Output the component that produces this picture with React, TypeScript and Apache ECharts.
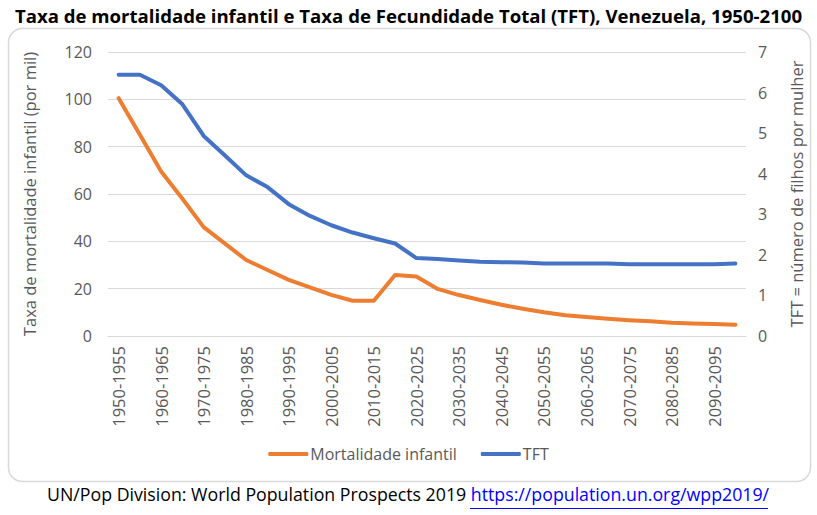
import React, { useEffect, useRef } from "react";
import * as echarts from "echarts";

const categories = [
  "1950-1955","1955-1960","1960-1965","1965-1970","1970-1975","1975-1980",
  "1980-1985","1985-1990","1990-1995","1995-2000","2000-2005","2005-2010",
  "2010-2015","2015-2020","2020-2025","2025-2030","2030-2035","2035-2040",
  "2040-2045","2045-2050","2050-2055","2055-2060","2060-2065","2065-2070",
  "2070-2075","2075-2080","2080-2085","2085-2090","2090-2095","2095-2100",
];

const mortalidade = [
  100.5, 85.0, 69.5, 58.0, 46.0, 39.0, 32.1, 27.9, 23.7, 20.5,
  17.4, 14.9, 14.9, 25.8, 25.1, 19.9, 17.3, 15.2, 13.2, 11.5,
  10.0, 8.8, 8.0, 7.3, 6.7, 6.2, 5.6, 5.3, 5.1, 4.8,
];

const tft = [
  6.44, 6.44, 6.18, 5.71, 4.93, 4.45, 3.96, 3.67, 3.25, 2.96,
  2.73, 2.55, 2.41, 2.28, 1.92, 1.90, 1.86, 1.83, 1.82, 1.81,
  1.79, 1.79, 1.79, 1.79, 1.77, 1.77, 1.77, 1.77, 1.77, 1.79,
];

const seriesNames = ["Mortalidade infantil", "TFT"];
const titleText = "Taxa de mortalidade infantil e Taxa de Fecundidade Total (TFT), Venezuela, 1950-2100";
const leftAxisName = "Taxa de mortalidade infantil (por mil)";
const rightAxisName = "TFT = número de filhos por mulher";
const sourceText = "UN/Pop Division: World Population Prospects 2019 ";
const sourceLink = "https://population.un.org/wpp2019/";

const FONT = "Open Sans";
const GRAY = "#595959";

export default function App() {
  const ref = useRef<HTMLDivElement>(null);
  useEffect(() => {
    if (!ref.current) return;
    const chart = echarts.init(ref.current, undefined, { renderer: "svg" });
    chart.setOption({
      animation: false,
      backgroundColor: "#fff",
      textStyle: { fontFamily: FONT },
      title: {
        text: titleText,
        left: "center",
        top: 1,
        textStyle: { fontFamily: FONT, fontSize: 18.6, fontWeight: "bold", color: "#000" },
      },
      graphic: [
        {
          type: "rect",
          shape: { x: 8.5, y: 28.5, width: 802, height: 453, r: 14 },
          style: { fill: "none", stroke: "#d9d9d9", lineWidth: 1.5 },
          z: -1,
        },
        {
          type: "text",
          left: 47,
          top: 485,
          style: {
            text: "{a|" + sourceText + "}{b|" + sourceLink + "}",
            rich: {
              a: { fontFamily: FONT, fontSize: 17.75, fill: "#000" },
              b: { fontFamily: FONT, fontSize: 17.75, fill: "#0000ff" },
            },
          },
        },
        {
          type: "line",
          shape: { x1: 470, y1: 508.5, x2: 768, y2: 508.5 },
          style: { stroke: "#0000ff", lineWidth: 1 },
        },
      ],
      legend: {
        data: seriesNames,
        bottom: 48,
        left: "center",
        icon: "roundRect",
        itemWidth: 40,
        itemHeight: 4,
        itemGap: 24,
        textStyle: { fontFamily: FONT, fontSize: 16, color: GRAY, padding: [0, 0, 0, -3] },
      },
      grid: { left: 108, right: 71, top: 52, bottom: 179, containLabel: false },
      xAxis: {
        type: "category",
        data: categories,
        boundaryGap: true,
        axisLine: { lineStyle: { color: "#d9d9d9", width: 1 } },
        axisTick: { show: false },
        axisLabel: {
          rotate: 90,
          interval: 1,
          margin: 10,
          fontFamily: FONT,
          fontSize: 16.5,
          color: GRAY,
        },
      },
      yAxis: [
        {
          type: "value",
          min: 0,
          max: 120,
          interval: 20,
          name: leftAxisName,
          nameLocation: "middle",
          nameGap: 70,
          nameTextStyle: { fontFamily: FONT, fontSize: 16.5, color: GRAY },
          axisLine: { show: false },
          axisTick: { show: false },
          axisLabel: { fontFamily: FONT, fontSize: 16, color: GRAY, margin: 16 },
          splitLine: { lineStyle: { color: "#d9d9d9", width: 1 } },
        },
        {
          type: "value",
          min: 0,
          max: 7,
          interval: 1,
          name: rightAxisName,
          nameLocation: "middle",
          nameGap: 42,
          nameRotate: 90,
          nameTextStyle: { fontFamily: FONT, fontSize: 16.5, color: GRAY },
          axisLine: { show: false },
          axisTick: { show: false },
          axisLabel: { fontFamily: FONT, fontSize: 16, color: GRAY, margin: 12 },
          splitLine: { show: false },
        },
      ],
      series: [
        {
          name: seriesNames[0],
          type: "line",
          yAxisIndex: 0,
          data: mortalidade,
          showSymbol: false,
          symbol: "none",
          color: "#ED7D31",
          lineStyle: { width: 4, color: "#ED7D31", cap: "round", join: "round" },
        },
        {
          name: seriesNames[1],
          type: "line",
          yAxisIndex: 1,
          data: tft,
          showSymbol: false,
          symbol: "none",
          color: "#4472C4",
          lineStyle: { width: 4, color: "#4472C4", cap: "round", join: "round" },
        },
      ],
    });
    return () => chart.dispose();
  }, []);
  return (
    <div
      ref={ref}
      style={{ position: "fixed", left: 0, top: 0, width: 817, height: 515 }}
    />
  );
}
